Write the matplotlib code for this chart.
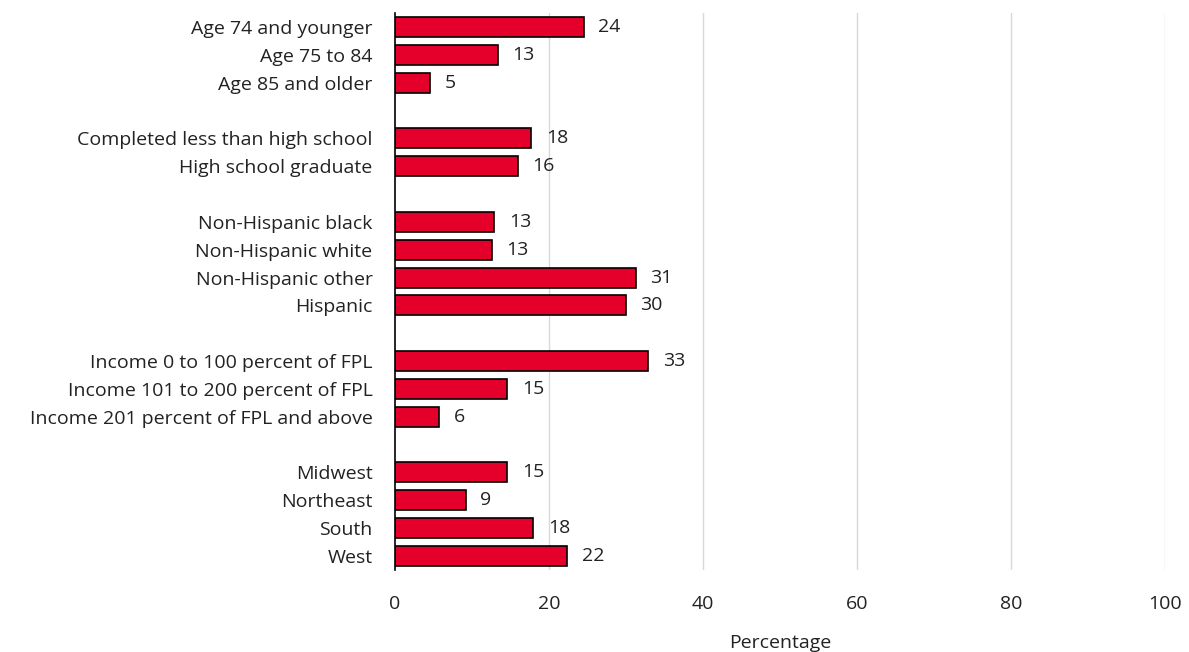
import matplotlib
matplotlib.use("Agg")
import matplotlib.pyplot as plt

categories = [
    "Age 74 and younger", "Age 75 to 84", "Age 85 and older",
    "Completed less than high school", "High school graduate",
    "Non-Hispanic black", "Non-Hispanic white", "Non-Hispanic other", "Hispanic",
    "Income 0 to 100 percent of FPL", "Income 101 to 200 percent of FPL",
    "Income 201 percent of FPL and above",
    "Midwest", "Northeast", "South", "West",
]
values = [24.5, 13.4, 4.6, 17.7, 16.0, 12.9, 12.6, 31.3, 30.0,
          32.9, 14.6, 5.8, 14.6, 9.2, 18.0, 22.4]
group_sizes = [3, 2, 4, 3, 4]
x_ticks = [0, 20, 40, 60, 80, 100]
x_label = "Percentage"

plt.rcParams["font.family"] = ["Open Sans", "DejaVu Sans"]
FS = 14

# row positions with one blank slot between groups
positions = []
slot = 0
for size in group_sizes:
    for _ in range(size):
        positions.append(slot)
        slot += 1
    slot += 1

fig = plt.figure(figsize=(11.89, 6.52), dpi=100)
ax = fig.add_axes([0.332, 0.126, 0.648, 0.854])

ax.barh(positions, values, height=0.72, color="#E4002B",
        edgecolor="black", linewidth=1.2, zorder=3)
for y, v in zip(positions, values):
    ax.text(v + 1.9, y, f"{v:.0f}", va="center", ha="left",
            fontsize=FS, color="#222222")

ax.set_xlim(0, 100)
ax.set_ylim(slot - 1.5, -0.5)
ax.set_yticks(positions)
ax.set_yticklabels(categories, fontsize=FS, color="#222222")
ax.set_xticks(x_ticks)
ax.set_xticklabels([str(t) for t in x_ticks], fontsize=FS, color="#222222")
ax.tick_params(axis="both", length=0)
ax.tick_params(axis="y", pad=16)
ax.tick_params(axis="x", pad=18)

for t in x_ticks[1:]:
    ax.axvline(t, color="#d9d9d9", linewidth=1, zorder=1)

for side in ["top", "right", "bottom"]:
    ax.spines[side].set_visible(False)
ax.spines["left"].set_color("black")
ax.spines["left"].set_linewidth(1.2)
ax.spines["left"].set_zorder(4)

ax.set_xlabel(x_label, fontsize=FS, color="#222222", labelpad=15)

fig.savefig("out.png", dpi=100)
